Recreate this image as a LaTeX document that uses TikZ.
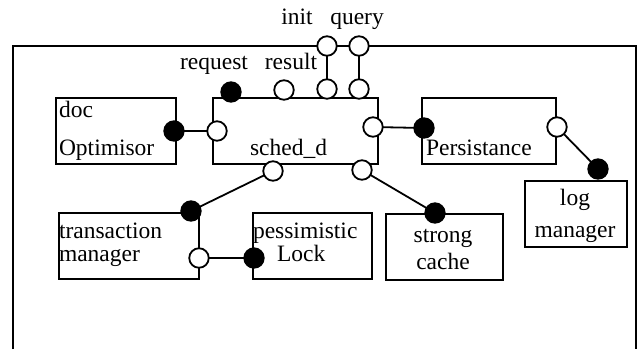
\documentclass[tikz,border=0pt]{standalone}
\usepackage{fontspec}
\setmainfont{Liberation Serif}
\begin{document}
\begin{tikzpicture}[x=1pt,y=-1pt,
  every node/.style={font=\fontsize{23.5}{26}\selectfont, inner sep=0pt, outer sep=0pt},
  box/.style={draw, line width=1.8pt, rectangle, minimum width=#1},
  open/.style={draw, circle, fill=white, line width=1.8pt, minimum size=19.5pt},
  full/.style={draw, circle, fill=black, line width=1.8pt, minimum size=19.5pt},
  wire/.style={line width=1.8pt},
  lbl/.style={anchor=base west},
  clbl/.style={anchor=base}]
\useasboundingbox (0,0) rectangle (639,349);
% outer frame
\coordinate (fbl) at (13,349);
\coordinate (ftl) at (13,46);
\coordinate (ftr) at (636,46);
\coordinate (fbr) at (636,349);
\draw[wire] (fbl) -- (ftl) -- (ftr) -- (fbr);
% boxes
\node[box=120pt, minimum height=66pt] (doc) at (116,131) {};
\node[box=165pt, minimum height=66pt] (sched) at (295.5,131) {};
\node[box=134pt, minimum height=66pt] (pers) at (489,131) {};
\node[box=102pt, minimum height=66pt] (logm) at (576,214) {};
\node[box=140pt, minimum height=66pt] (tm) at (129,246) {};
\node[box=119pt, minimum height=66pt] (pl) at (312.5,246) {};
\node[box=117pt, minimum height=66pt] (sc) at (444.5,247) {};
% texts
\node[clbl] (tinit) at (297,24) {init};
\node[clbl] (tquery) at (357,24) {query};
\node[clbl] (treq) at (214,69) {request};
\node[clbl] (tres) at (291,69) {result};
\node[lbl] (tdoc) at (59,117) {doc};
\node[lbl] (topt) at (59,155) {Optimisor};
\node[lbl] (tsched) at (250,155) {sched\_d};
\node[lbl] (tpers) at (426,155) {Persistance};
\node[lbl] (ttr) at (59,238) {transaction};
\node[lbl] (tman) at (59,261) {manager};
\node[lbl] (tpes) at (253,238) {pessimistic};
\node[lbl] (tlock) at (277,261) {Lock};
\node[clbl] (tstr) at (443,242) {strong};
\node[clbl] (tcache) at (443,269) {cache};
\node[clbl] (tlog) at (575,205) {log};
\node[clbl] (tlman) at (575,237) {manager};
% ports
\node[open] (init) at (327,46) {};
\node[open] (query) at (359,46) {};
\node[open] (initlow) at (327,89) {};
\node[open] (querylow) at (359,89) {};
\node[full] (req) at (231,92) {};
\node[open] (res) at (284,90) {};
\node[full] (docP) at (174,131) {};
\node[open] (schedL) at (217,131) {};
\node[open] (schedR) at (373,127) {};
\node[full] (persL) at (424,128) {};
\node[open] (persR) at (557,127) {};
\node[full] (logT) at (598,169) {};
\node[open] (schedB1) at (273,171) {};
\node[full] (tmT) at (191,211) {};
\node[open] (tmR) at (199,258) {};
\node[full] (plL) at (254,258) {};
\node[open] (schedB2) at (362,170) {};
\node[full] (scT) at (435,213) {};
% connectors
\draw[wire] (init) -- (initlow);
\draw[wire] (query) -- (querylow);
\draw[wire] (docP) -- (schedL);
\draw[wire] (schedR) -- (persL);
\draw[wire] (persR) -- (logT);
\draw[wire] (schedB1) -- (tmT);
\draw[wire] (tmR) -- (plL);
\draw[wire] (schedB2) -- (scT);
\end{tikzpicture}
\end{document}
